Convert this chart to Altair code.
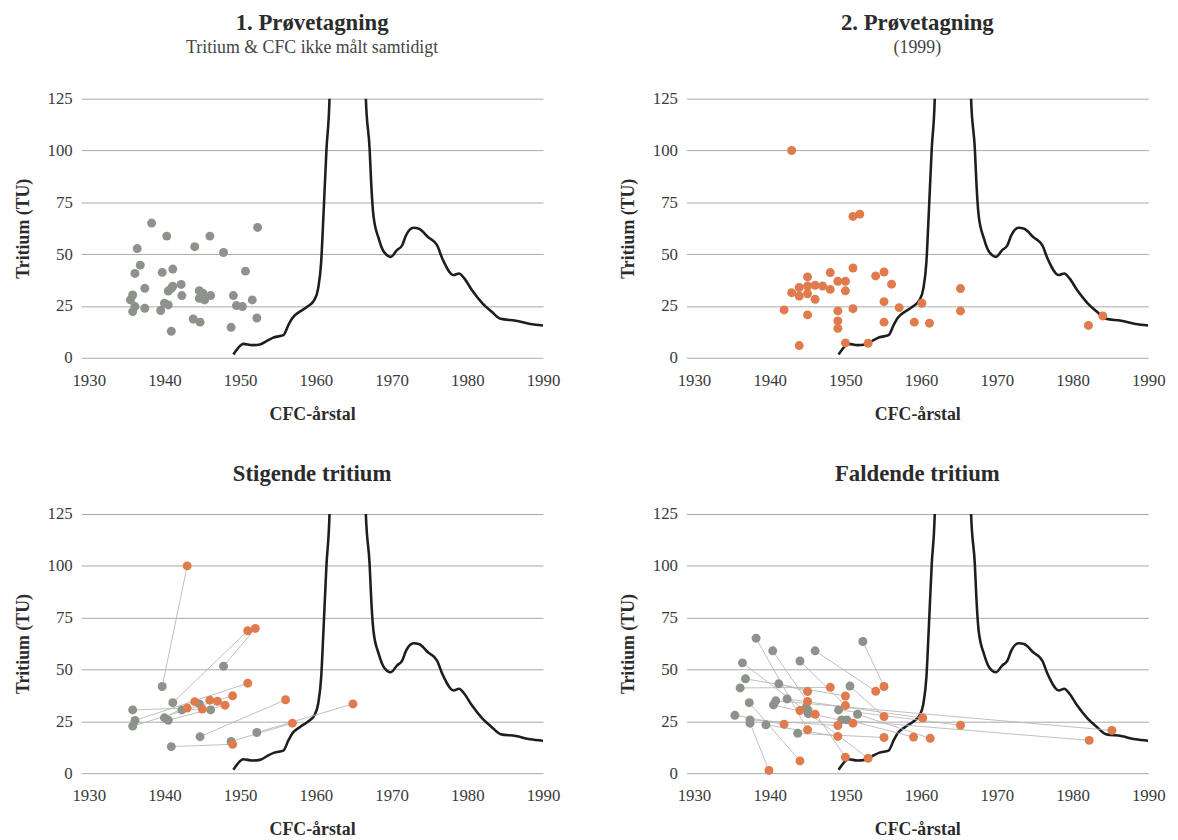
import altair as alt
import pandas as pd

# ---------------- data ----------------
# Tritium input curve (values above 125 are clipped by the axis)
curve_year = [1949.1, 1950.2, 1950.4, 1951.6, 1952.6, 1953.6, 1954.5, 1955.7, 1956.4, 1956.9,
              1957.9, 1958.9, 1959.8, 1960.3, 1960.7, 1961.0, 1961.4, 1961.8, 1962.3, 1963.3,
              1964.3, 1965.3, 1966.1, 1966.6, 1967.1, 1967.3, 1967.6, 1968.3, 1969.0, 1969.9,
              1970.7, 1971.4, 1971.9, 1972.9, 1973.6, 1974.8, 1976.0, 1976.7, 1978.2, 1978.9,
              1979.6, 1980.6, 1982.0, 1983.2, 1984.4, 1986.4, 1988.3, 1990.0]
curve_tu = [1.6, 6.4, 6.7, 6.1, 6.4, 8.3, 9.9, 10.9, 16.0, 19.2,
            22.3, 24.7, 27.9, 33.5, 46.3, 68.7, 100.6, 125.0, 220.0, 420.0,
            460.0, 360.0, 200.0, 125.0, 100.6, 84.6, 68.7, 57.5, 51.0, 48.7,
            51.9, 54.3, 59.0, 62.7, 62.3, 58.3, 54.3, 47.9, 39.9, 40.7,
            38.3, 32.7, 26.3, 22.3, 18.8, 17.9, 16.3, 15.6]

# Panel 1: first sampling (gray)
s1_year = [1935.5, 1935.8, 1935.8, 1936.1, 1936.1, 1936.4, 1936.8, 1937.4, 1937.4, 1938.3,
           1939.5, 1939.7, 1940.0, 1940.3, 1940.5, 1940.5, 1940.9, 1940.9, 1941.1, 1941.1,
           1942.2, 1942.3, 1943.8, 1944.0, 1944.6, 1944.6, 1944.7, 1945.1, 1945.3, 1946.0,
           1946.1, 1947.8, 1948.8, 1949.1, 1949.5, 1950.3, 1950.7, 1951.6, 1952.2, 1952.3]
s1_tu = [27.9, 30.3, 22.3, 24.7, 40.7, 52.7, 44.7, 33.5, 23.9, 65.0,
         22.8, 41.2, 26.3, 58.7, 25.5, 32.2, 33.5, 12.8, 42.8, 34.5,
         35.4, 30.0, 18.7, 53.6, 32.4, 28.7, 17.2, 31.1, 27.9, 58.7,
         30.0, 50.8, 14.7, 30.0, 25.2, 24.7, 41.8, 27.9, 19.2, 62.9]

# Panel 2: second sampling 1999 (orange)
s2_year = [1941.9, 1942.9, 1942.9, 1943.9, 1943.9, 1943.9, 1945.0, 1945.0, 1945.0, 1945.0,
           1946.0, 1946.0, 1947.0, 1948.0, 1948.0, 1949.0, 1949.0, 1949.0, 1949.0, 1950.0,
           1950.0, 1950.0, 1951.0, 1951.0, 1951.0, 1951.9, 1953.0, 1954.0, 1955.1, 1955.1,
           1955.1, 1956.1, 1957.1, 1959.1, 1960.1, 1961.1, 1965.2, 1965.2, 1982.1, 1984.0]
s2_tu = [23.1, 100.0, 31.4, 33.9, 29.8, 5.9, 39.0, 34.6, 30.9, 20.7,
         35.0, 28.2, 34.6, 41.1, 33.0, 36.9, 22.6, 17.8, 14.2, 36.9,
         32.3, 7.2, 68.2, 43.3, 23.7, 69.3, 7.0, 39.5, 41.4, 27.1,
         17.2, 35.5, 24.2, 17.2, 26.3, 16.7, 33.4, 22.6, 15.6, 20.2]

# Panel 3: rising tritium, pairs (gray = 1st sampling, orange = 2nd sampling)
rise_gray_year = [1935.8, 1936.1, 1935.8, 1939.7, 1940.0, 1940.5, 1941.1, 1947.8, 1942.3,
                  1940.9, 1944.6, 1946.1, 1944.7, 1948.8, 1952.2]
rise_gray_tu = [30.5, 25.4, 22.7, 41.8, 26.7, 25.5, 34.0, 51.6, 30.5,
                12.8, 33.4, 30.5, 17.6, 15.3, 19.6]
rise_orange_year = [1943.0, 1951.0, 1949.0, 1943.0, 1944.0, 1948.0, 1951.0, 1952.0, 1945.0,
                    1949.0, 1946.0, 1947.0, 1956.0, 1956.9, 1964.9]
rise_orange_tu = [31.4, 43.4, 37.3, 100.0, 34.5, 32.8, 68.7, 69.8, 30.9,
                  13.9, 35.2, 34.7, 35.4, 24.1, 33.4]

# Panel 4: falling tritium, pairs
fall_gray_year = [1935.4, 1936.1, 1936.4, 1936.8, 1937.3, 1937.4, 1937.4, 1938.2, 1939.5,
                  1940.4, 1940.5, 1940.8, 1941.2, 1942.3, 1943.7, 1944.0, 1944.8, 1945.1,
                  1946.0, 1949.1, 1949.5, 1950.2, 1950.6, 1951.6, 1952.3, 1945.0]
fall_gray_tu = [27.9, 41.1, 53.2, 45.5, 34.0, 25.7, 24.1, 65.1, 23.3,
                59.0, 32.9, 34.9, 43.1, 35.8, 19.2, 54.1, 31.6, 28.7,
                59.0, 30.5, 25.7, 25.7, 42.0, 28.4, 63.5, 30.5]
fall_orange_year = [1941.9, 1948.0, 1953.0, 1950.0, 1944.0, 1949.0, 1939.9, 1945.0, 1949.0,
                    1950.0, 1951.0, 1985.2, 1945.0, 1960.2, 1955.1, 1950.0, 1944.0, 1946.0,
                    1954.0, 1965.2, 1982.2, 1959.0, 1955.1, 1961.2, 1955.1, 1945.0]
fall_orange_tu = [23.6, 41.4, 7.2, 37.2, 5.9, 23.0, 1.3, 20.9, 17.7,
                  7.7, 24.1, 20.6, 39.4, 26.6, 17.2, 32.6, 30.2, 28.4,
                  39.5, 23.1, 15.8, 17.4, 27.3, 16.8, 41.8, 34.6]

x_ticks = [1930, 1940, 1950, 1960, 1970, 1980, 1990]
y_ticks = [0, 25, 50, 75, 100, 125]

# ---------------- styling ----------------
GRAY = "#8c938a"
ORANGE = "#df7b4c"
FONT = "Liberation Serif"
W, H = 467, 262

x_scale = alt.Scale(domain=[1929, 1990], nice=False, zero=False)
y_scale = alt.Scale(domain=[0, 125], nice=False)
x_axis = alt.Axis(values=x_ticks, format="d", title="CFC-årstal", labelFlush=False)
y_axis = alt.Axis(values=y_ticks, title="Tritium (TU)")

curve_df = pd.DataFrame({"year": curve_year, "tu": curve_tu})


def X(field):
    return alt.X(field, type="quantitative", scale=x_scale, axis=x_axis)


def Y(field):
    return alt.Y(field, type="quantitative", scale=y_scale, axis=y_axis)


def curve_layer():
    return alt.Chart(curve_df).mark_line(
        color="#1e1e1e", strokeWidth=2.6, clip=True, interpolate="monotone"
    ).encode(x=X("year"), y=Y("tu"))


def points(years, tus, color):
    df = pd.DataFrame({"year": years, "tu": tus})
    return alt.Chart(df).mark_circle(color=color, size=82, opacity=1).encode(
        x=X("year"), y=Y("tu"))


def links(gy, gt, oy, ot):
    df = pd.DataFrame({"gx": gy, "gy": gt, "ox": oy, "oy": ot})
    return alt.Chart(df).mark_rule(color="#b8b8b8", strokeWidth=0.9).encode(
        x=X("gx"), y=Y("gy"), x2="ox", y2="oy")


def title(text, subtitle=None, offset=30):
    kw = dict(text=text, font=FONT, fontSize=23, fontWeight="bold", color="#2b2b2b",
              anchor="middle", offset=offset)
    if subtitle:
        kw.update(subtitle=subtitle, subtitleFont=FONT, subtitleFontSize=18,
                  subtitleColor="#444444", subtitlePadding=4)
    return alt.TitleParams(**kw)


p1 = alt.layer(curve_layer(), points(s1_year, s1_tu, GRAY)).properties(
    width=W, height=H, title=title("1. Prøvetagning", "Tritium & CFC ikke målt samtidigt", 33))
p2 = alt.layer(curve_layer(), points(s2_year, s2_tu, ORANGE)).properties(
    width=W, height=H, title=title("2. Prøvetagning", "(1999)", 33))
p3 = alt.layer(
    curve_layer(),
    links(rise_gray_year, rise_gray_tu, rise_orange_year, rise_orange_tu),
    points(rise_gray_year, rise_gray_tu, GRAY),
    points(rise_orange_year, rise_orange_tu, ORANGE),
).properties(width=W, height=H, title=title("Stigende tritium", offset=19))
p4 = alt.layer(
    curve_layer(),
    links(fall_gray_year, fall_gray_tu, fall_orange_year, fall_orange_tu),
    points(fall_gray_year, fall_gray_tu, GRAY),
    points(fall_orange_year, fall_orange_tu, ORANGE),
).properties(width=W, height=H, title=title("Faldende tritium", offset=19))

chart = alt.concat(p1, p2, p3, p4, columns=2, spacing={"row": 158, "column": 145},
                   bounds="flush",
                   padding={"left": 6, "top": 0, "right": 5, "bottom": 5}
                   ).configure_view(stroke=None).configure_axis(
    labelFont=FONT, labelFontSize=17, labelColor="#3a3a3a",
    titleFont=FONT, titleFontSize=18, titleFontWeight="bold", titleColor="#2b2b2b",
    ticks=False, domain=False,
).configure_axisX(
    grid=False, labelPadding=15, titlePadding=17,
).configure_axisY(
    grid=True, gridColor="#a9a9a9", gridWidth=1, labelPadding=9, titlePadding=15,
)

chart.save("out.html", embed_options={"renderer": "svg", "actions": False})
